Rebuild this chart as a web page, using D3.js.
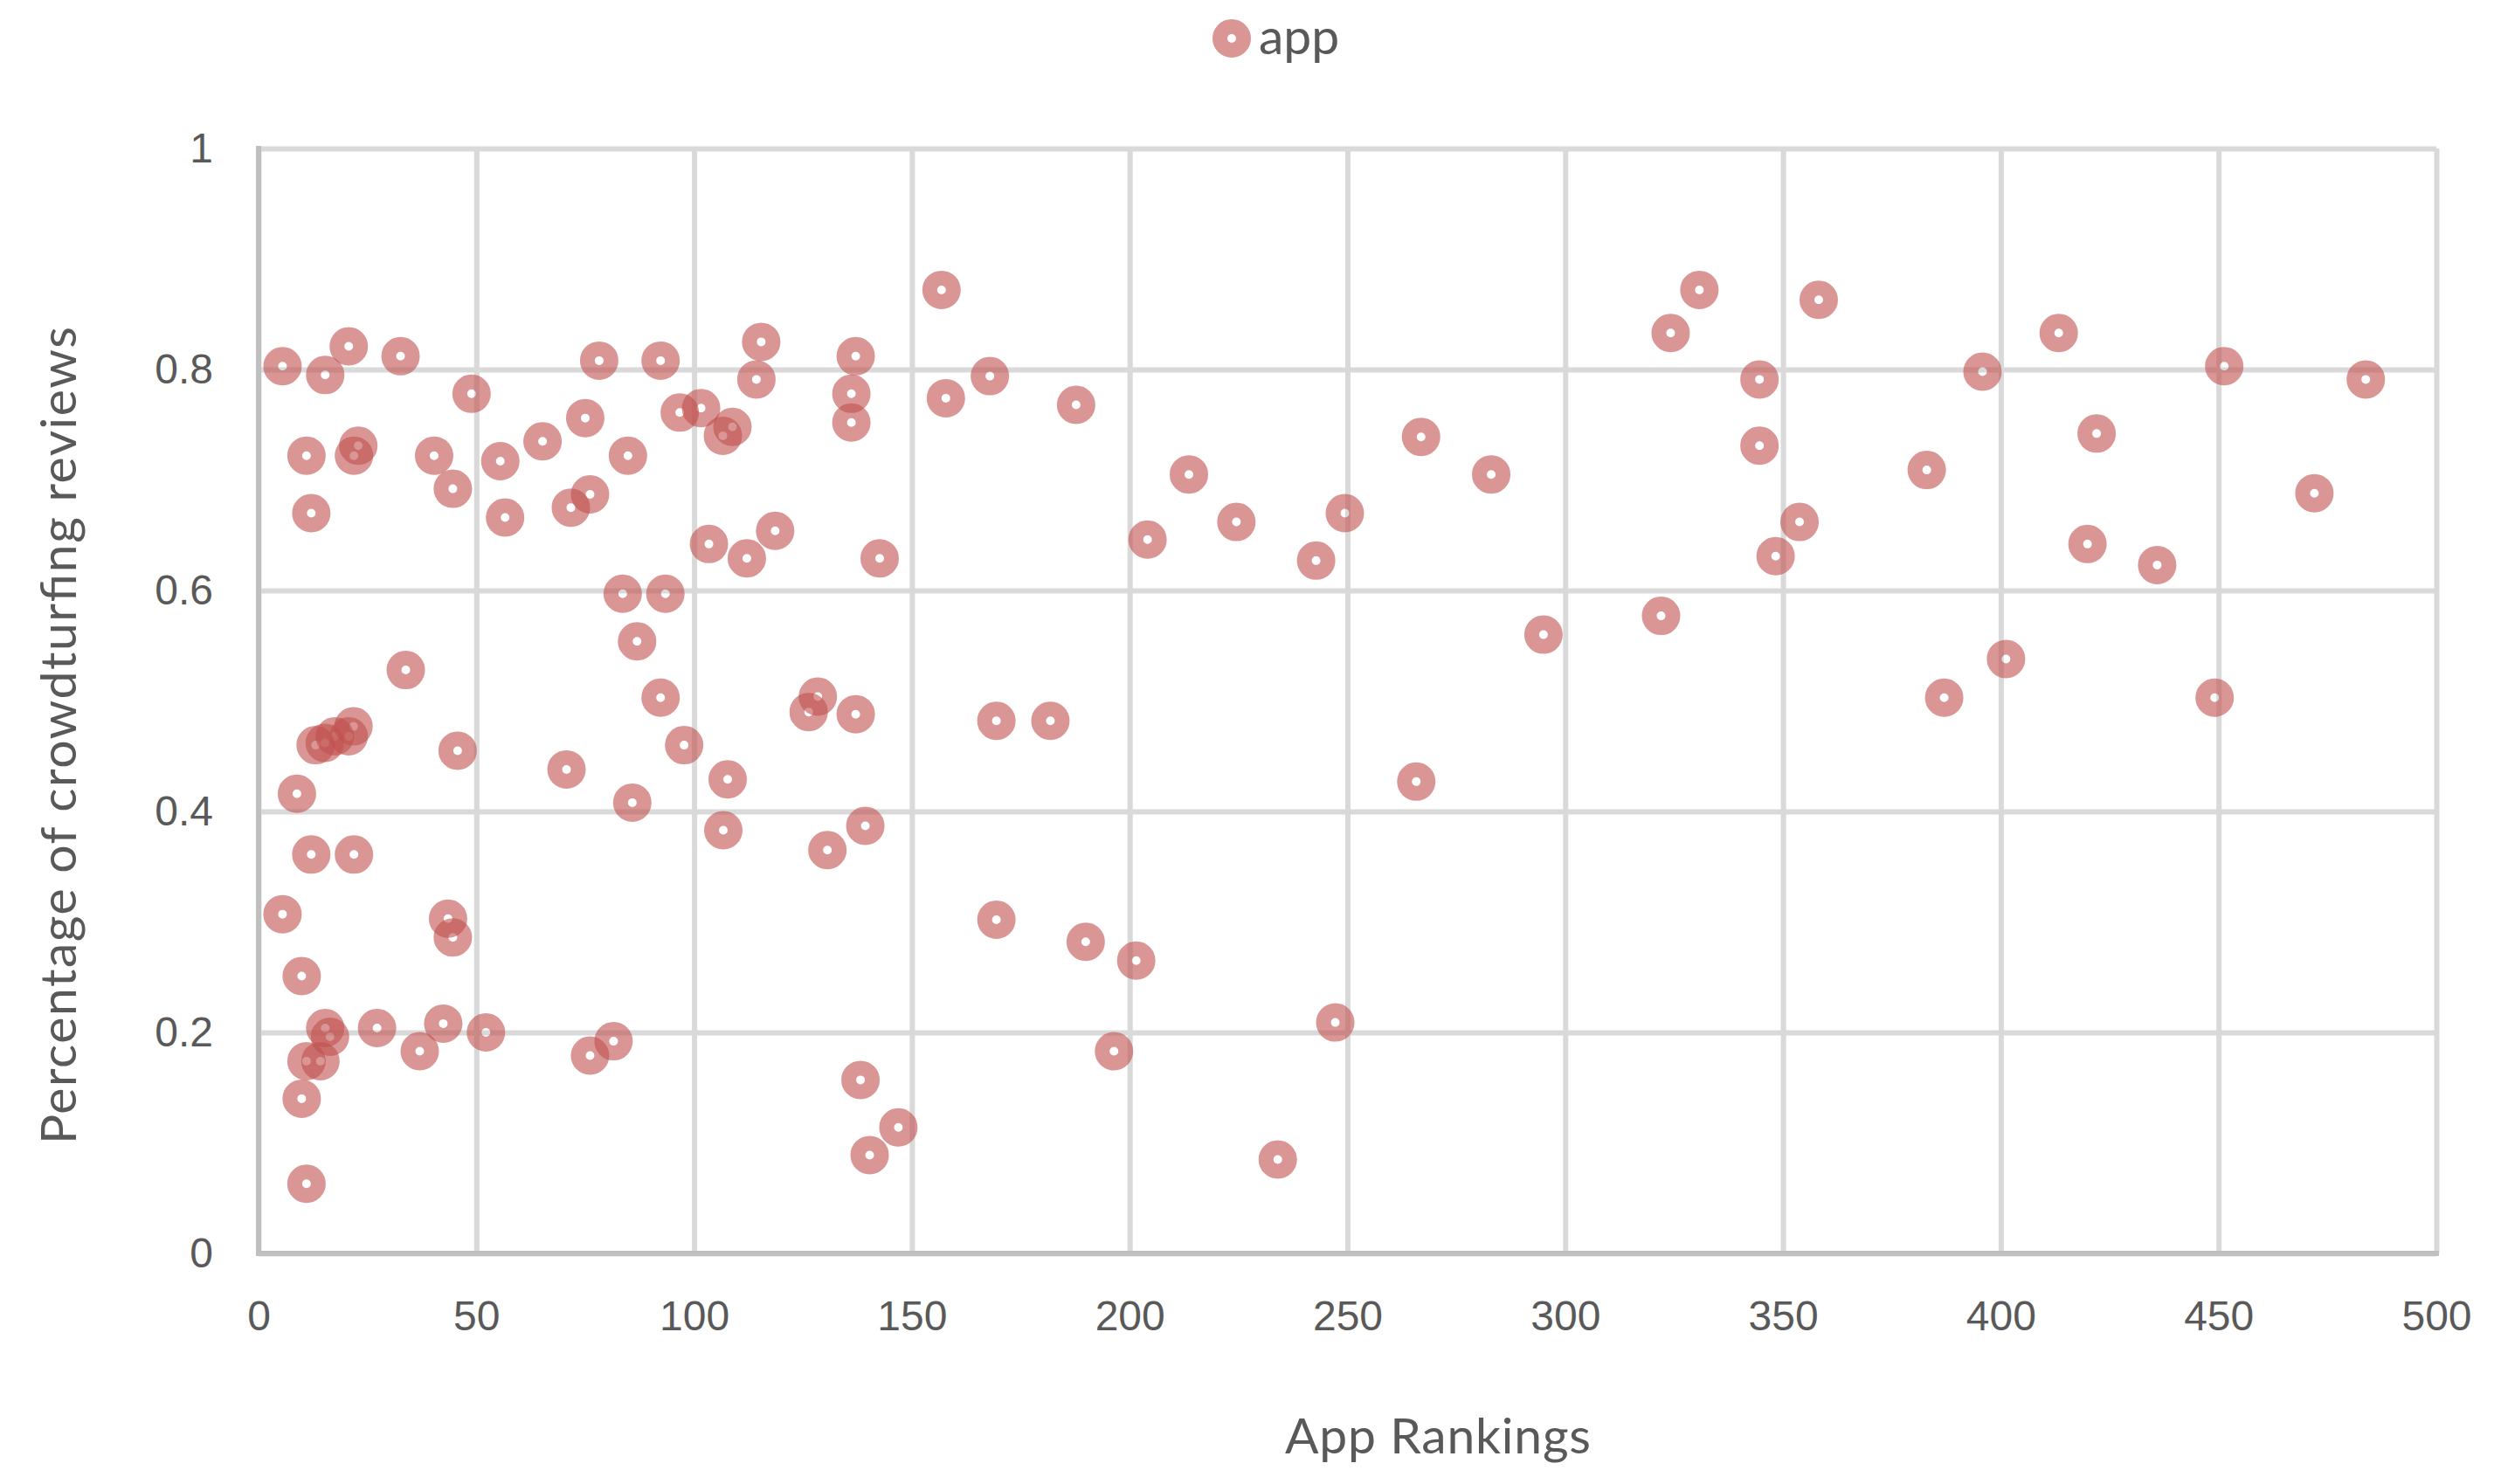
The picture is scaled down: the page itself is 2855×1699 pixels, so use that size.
<!DOCTYPE html>
<html>
<head>
<meta charset="utf-8">
<script src="https://cdn.jsdelivr.net/npm/d3@7"></script>
<style>
  body { margin: 0; background: #ffffff; }
  svg { display: block; font-family: Lato, "Open Sans", sans-serif; }
</style>
</head>
<body>
<div id="chart"></div>
<script>
// Data: app ranking and share of crowdturfing reviews
let rankings = [
  5.5, 15.3, 20.7, 32.6, 48.9, 11.0, 21.9, 22.9, 40.3, 44.6,
  12.1, 33.8, 13.1, 15.2, 17.5, 20.7, 21.8, 45.7, 8.8, 12.1,
  21.9, 5.5, 9.9, 43.5, 44.6, 15.3, 16.4, 11.0, 14.2, 9.9,
  11.0, 27.2, 37.0, 42.4,
  52.2, 55.5, 56.6, 65.2, 75.0, 71.7, 76.1, 78.2, 84.8, 92.3,
  96.7, 83.6, 93.4, 86.9, 92.3, 97.7, 70.7, 85.8, 76.1, 81.5,
  101.6, 103.4, 106.6, 108.8, 114.3, 115.4, 112.1, 118.6, 136.1, 137.1,
  136.1, 142.6, 107.7, 106.7, 126.3, 128.4, 130.6, 137.1, 139.3, 138.2,
  140.3, 146.9, 156.8, 157.8,
  167.9, 169.4, 181.8, 187.7, 169.4, 189.9, 196.4,
  201.5, 204.1, 213.6, 224.5, 234.0, 242.8, 247.2, 249.4,
  265.8, 266.9, 283.0, 295.0,
  322.0, 324.2, 330.8, 344.6, 344.6, 348.3,
  353.8, 358.2, 383.0, 387.0, 395.8,
  401.2, 413.3, 419.9, 422.0, 435.9, 449.1,
  451.3, 472.0, 483.8
];
let shares = [
  0.803, 0.795, 0.821, 0.812, 0.778, 0.722, 0.722, 0.731, 0.722, 0.692,
  0.670, 0.528, 0.460, 0.462, 0.468, 0.468, 0.477, 0.455, 0.416, 0.361,
  0.361, 0.307, 0.251, 0.303, 0.286, 0.204, 0.196, 0.174, 0.174, 0.140,
  0.063, 0.204, 0.183, 0.208,
  0.200, 0.717, 0.666, 0.735, 0.756, 0.675, 0.687, 0.808, 0.722, 0.808,
  0.761, 0.597, 0.597, 0.554, 0.503, 0.460, 0.438, 0.408, 0.179, 0.192,
  0.765, 0.642, 0.740, 0.748, 0.791, 0.825, 0.629, 0.654, 0.778, 0.812,
  0.752, 0.629, 0.429, 0.383, 0.490, 0.504, 0.365, 0.488, 0.387, 0.157,
  0.089, 0.114, 0.872, 0.774,
  0.794, 0.482, 0.482, 0.768, 0.302, 0.282, 0.183,
  0.265, 0.646, 0.705, 0.662, 0.085, 0.627, 0.209, 0.670,
  0.427, 0.739, 0.705, 0.560,
  0.577, 0.833, 0.872, 0.791, 0.731, 0.631,
  0.662, 0.863, 0.709, 0.503, 0.798,
  0.538, 0.833, 0.642, 0.742, 0.623, 0.503,
  0.803, 0.688, 0.791
];
let xTicks = [0, 50, 100, 150, 200, 250, 300, 350, 400, 450, 500];
let yTicks = [0, 0.2, 0.4, 0.6, 0.8, 1];
let yTickLabels = ["0", "0.2", "0.4", "0.6", "0.8", "1"];
let seriesName = "app";

function BuildGraph(){
  let chart_width = 2855;
  let chart_height = 1699;
  let left = 296, right = 2789, top = 170, bottom = 1435;
  let dotColor = "#C0504D";

  let points = rankings.map((r, i) => ({ rank: r, share: shares[i] }));

  let svg = d3.select('#chart')
    .append('svg')
    .attr('width', chart_width)
    .attr('height', chart_height);

  // Scales
  let x_scale = d3.scaleLinear().domain([0, 500]).range([left, right]);
  let y_scale = d3.scaleLinear().domain([0, 1]).range([bottom, top]);

  // Axes with gridlines drawn as long ticks
  let x_axis = d3.axisBottom(x_scale)
    .tickValues(xTicks)
    .tickFormat(d3.format("d"))
    .tickSize(-(bottom - top))
    .tickPadding(54);
  let gx = svg.append('g')
    .attr('id', 'x-axis')
    .attr('transform', 'translate(0,' + bottom + ')')
    .call(x_axis);

  let y_axis = d3.axisLeft(y_scale)
    .tickValues(yTicks)
    .tickFormat((d, i) => yTickLabels[i])
    .tickSize(-(right - left))
    .tickPadding(52);
  let gy = svg.append('g')
    .attr('id', 'y-axis')
    .attr('transform', 'translate(' + left + ',0)')
    .call(y_axis);

  [gx, gy].forEach(g => {
    g.select('.domain').remove();
    g.selectAll('line')
      .attr('stroke', '#d9d9d9')
      .attr('stroke-width', 6);
    g.selectAll('text')
      .attr('fill', '#595959')
      .style('font-size', '48px');
  });

  // Axis lines on the left and bottom
  svg.append('line')
    .attr('x1', left).attr('x2', left)
    .attr('y1', top - 3).attr('y2', bottom + 3)
    .attr('stroke', '#bfbfbf').attr('stroke-width', 6);
  svg.append('line')
    .attr('x1', left - 3).attr('x2', right + 3)
    .attr('y1', bottom).attr('y2', bottom)
    .attr('stroke', '#bfbfbf').attr('stroke-width', 6);

  // Ring markers
  svg.append('g')
    .selectAll('circle')
    .data(points)
    .enter()
    .append('circle')
    .attr('cx', d => x_scale(d.rank))
    .attr('cy', d => y_scale(d.share))
    .attr('r', 13.5)
    .attr('fill', 'none')
    .attr('stroke', dotColor)
    .attr('stroke-opacity', 0.6)
    .attr('stroke-width', 17);

  // Axis titles
  svg.append('text')
    .attr('x', 1646)
    .attr('y', 1664)
    .attr('text-anchor', 'middle')
    .attr('fill', '#595959')
    .attr('textLength', 350)
    .attr('lengthAdjust', 'spacing')
    .style('font-size', '57px')
    .text("App Rankings");

  svg.append('text')
    .attr('text-anchor', 'middle')
    .attr('fill', '#595959')
    .attr('textLength', 936)
    .attr('lengthAdjust', 'spacing')
    .style('font-size', '57px')
    .attr('transform', 'translate(87,842)rotate(-90)')
    .text("Percentage of crowdturfing reviews");

  // Legend
  let legend = svg.append('g').attr('id', 'legend');
  legend.append('circle')
    .attr('cx', 1410)
    .attr('cy', 44)
    .attr('r', 13.5)
    .attr('fill', 'none')
    .attr('stroke', dotColor)
    .attr('stroke-opacity', 0.6)
    .attr('stroke-width', 17);
  legend.append('text')
    .attr('x', 1441)
    .attr('y', 62)
    .attr('fill', '#595959')
    .style('font-size', '57px')
    .text(seriesName);
}

document.addEventListener('DOMContentLoaded', function(){
  BuildGraph();
});
</script>
</body>
</html>
